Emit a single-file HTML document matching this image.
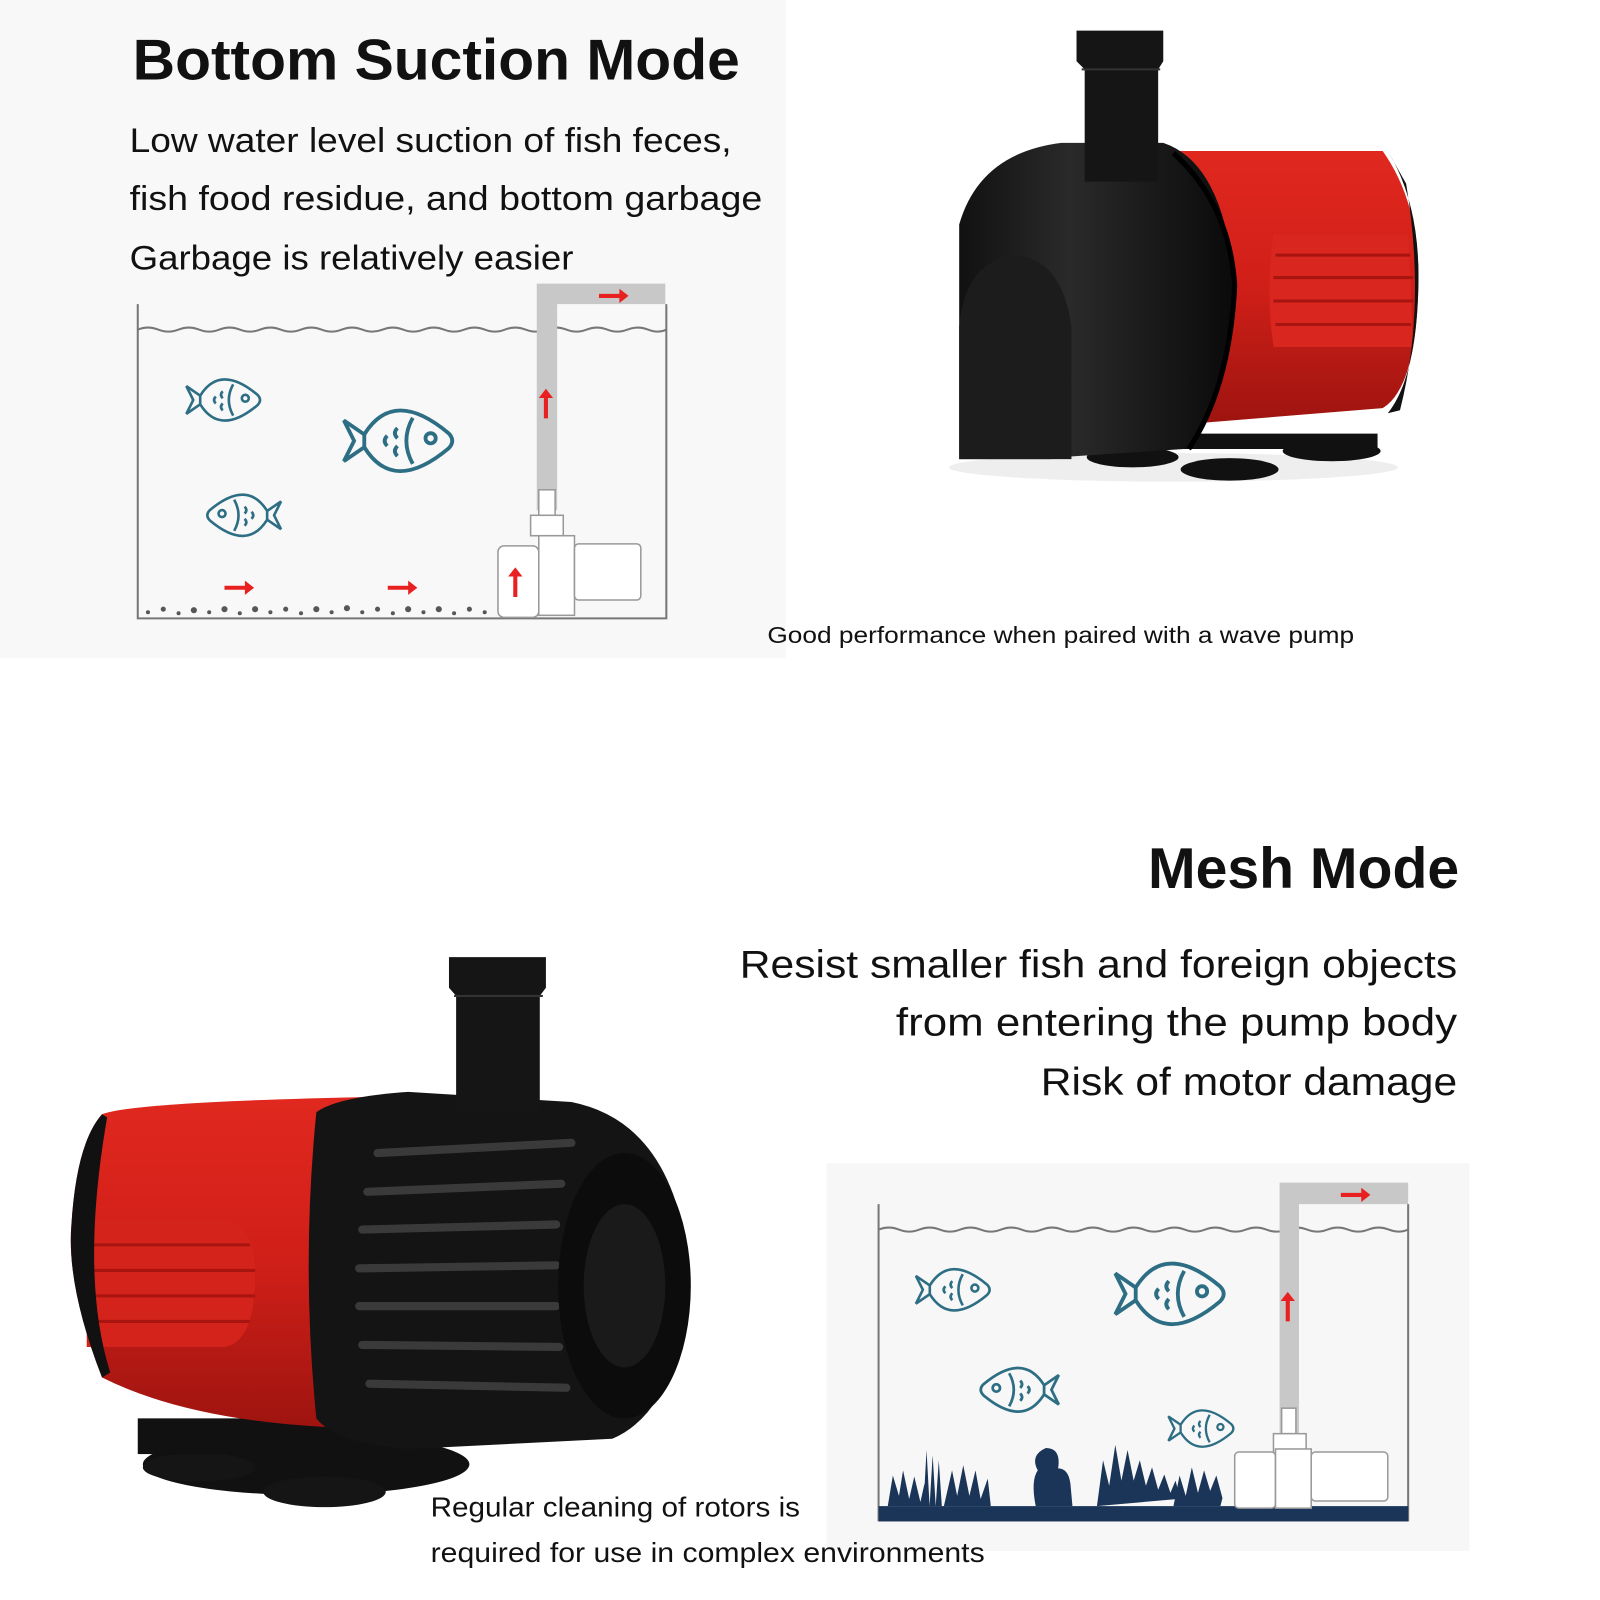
<!DOCTYPE html>
<html><head><meta charset="utf-8"><style>
html,body{margin:0;padding:0;background:#fff}
svg{display:block}
text{font-family:"Liberation Sans",sans-serif;fill:#111}
</style></head><body>
<svg width="1600" height="1600" viewBox="0 0 1568 1568" xmlns="http://www.w3.org/2000/svg">
<defs>
<linearGradient id="red" x1="0" y1="0" x2="0" y2="1"><stop offset="0" stop-color="#e0281f"/><stop offset=".5" stop-color="#d01f18"/><stop offset="1" stop-color="#9e1410"/></linearGradient>
<linearGradient id="blk" x1="0" y1="0" x2="1" y2="0"><stop offset="0" stop-color="#111"/><stop offset=".4" stop-color="#2a2a2a"/><stop offset="1" stop-color="#0a0a0a"/></linearGradient>
<g id="fish" fill="none" stroke="#2d6e84" stroke-width="3">
<path d="M-28,-5 Q-5,-42 38,-6 Q44,0 38,6 Q-5,42 -28,5 Z"/>
<path d="M-28,-5 L-44,-16 L-36,0 L-44,16 L-28,5"/>
<circle cx="24" cy="-2" r="4"/>
<path d="M10,-18 Q0,0 10,18 M-2,-10 q-4,4 0,8 M-10,-4 q-4,4 0,8 M-2,4 q-4,4 0,8"/>
</g>
</defs>
<rect x="0" y="0" width="770" height="645" fill="#f8f8f8"/>
<rect x="810" y="1140" width="630" height="380" fill="#f7f7f7"/>

<text x="130" y="78" font-size="56" font-weight="bold" textLength="595" lengthAdjust="spacingAndGlyphs">Bottom Suction Mode</text>
<text x="127" y="149" font-size="34" textLength="590" lengthAdjust="spacingAndGlyphs">Low water level suction of fish feces,</text>
<text x="127" y="206" font-size="34" textLength="620" lengthAdjust="spacingAndGlyphs">fish food residue, and bottom garbage</text>
<text x="127" y="264" font-size="34" textLength="435" lengthAdjust="spacingAndGlyphs">Garbage is relatively easier</text>
<text x="752" y="630" font-size="23" textLength="575" lengthAdjust="spacingAndGlyphs">Good performance when paired with a wave pump</text>

<text x="1430" y="870" font-size="56" font-weight="bold" text-anchor="end" textLength="305" lengthAdjust="spacingAndGlyphs">Mesh Mode</text>
<text x="1428" y="958" font-size="38" text-anchor="end" textLength="703" lengthAdjust="spacingAndGlyphs">Resist smaller fish and foreign objects</text>
<text x="1428" y="1015" font-size="38" text-anchor="end" textLength="550" lengthAdjust="spacingAndGlyphs">from entering the pump body</text>
<text x="1428" y="1073" font-size="38" text-anchor="end" textLength="408" lengthAdjust="spacingAndGlyphs">Risk of motor damage</text>
<text x="422" y="1486" font-size="27" textLength="362" lengthAdjust="spacingAndGlyphs">Regular cleaning of rotors is</text>
<text x="422" y="1531" font-size="27" textLength="543" lengthAdjust="spacingAndGlyphs">required for use in complex environments</text>

<!-- top tank -->
<g fill="none" stroke="#777" stroke-width="2">
<path d="M135,298 V606 H653 V298"/>
<path d="M135,323 q10,-4 20,0 t20,0 t20,0 t20,0 t20,0 t20,0 t20,0 t20,0 t20,0 t20,0 t20,0 t20,0 t20,0 t20,0 t20,0 t20,0 t20,0 t20,0 t20,0 t20,0 t20,0 t20,0 t20,0 t20,0 t20,0 t18,0"/>
</g>
<path d="M526,500 V278 H652 V298 H546 V500 Z" fill="#c8c8c8"/>
<g fill="#222" opacity=".75">
<circle cx="145" cy="600" r="2"/><circle cx="160" cy="597" r="2.5"/><circle cx="175" cy="601" r="2"/><circle cx="190" cy="598" r="3"/><circle cx="205" cy="600" r="2"/><circle cx="220" cy="597" r="3"/><circle cx="235" cy="601" r="2"/><circle cx="250" cy="597" r="3"/><circle cx="265" cy="600" r="2"/><circle cx="280" cy="597" r="2.5"/><circle cx="295" cy="601" r="2"/><circle cx="310" cy="597" r="3"/><circle cx="325" cy="600" r="2"/><circle cx="340" cy="596" r="3"/><circle cx="355" cy="600" r="2"/><circle cx="370" cy="597" r="2.5"/><circle cx="385" cy="601" r="2"/><circle cx="400" cy="597" r="3"/><circle cx="415" cy="600" r="2"/><circle cx="430" cy="597" r="3"/><circle cx="445" cy="601" r="2"/><circle cx="460" cy="597" r="2.5"/><circle cx="475" cy="600" r="2"/>
</g>
<g fill="#fff" stroke="#999" stroke-width="1.5">
<rect x="528" y="480" width="16" height="25"/>
<rect x="520" y="505" width="32" height="20"/>
<rect x="488" y="535" width="40" height="70" rx="6"/>
<rect x="528" y="525" width="35" height="78"/>
<rect x="563" y="533" width="65" height="55" rx="4"/>
</g>
<g fill="#e82020">
<path d="M587,288 h20 v-5 l9,7 -9,7 v-5 h-20 z"/>
<path d="M533,410 v-20 h-5 l7,-9 7,9 h-5 v20 z"/>
<path d="M503,585 v-20 h-5 l7,-9 7,9 h-5 v20 z"/>
<path d="M220,574 h20 v-5 l9,7 -9,7 v-5 h-20 z"/>
<path d="M380,574 h20 v-5 l9,7 -9,7 v-5 h-20 z"/>
</g>
<use href="#fish" transform="translate(220,392) scale(0.85)"/>
<use href="#fish" transform="translate(392,432) scale(1.25)"/>
<use href="#fish" transform="translate(238,505) scale(-0.85,0.85)"/>

<!-- bottom tank -->
<g fill="none" stroke="#777" stroke-width="2">
<path d="M861,1180 V1490 H1380 V1180"/>
<path d="M861,1205 q10,-4 20,0 t20,0 t20,0 t20,0 t20,0 t20,0 t20,0 t20,0 t20,0 t20,0 t20,0 t20,0 t20,0 t20,0 t20,0 t20,0 t20,0 t20,0 t20,0 t20,0 t20,0 t20,0 t20,0 t20,0 t20,0 t19,0"/>
</g>
<path d="M1254,1420 V1159 H1380 V1180 H1273 V1420 Z" fill="#c8c8c8"/>
<rect x="861" y="1476" width="519" height="15" fill="#1a3558"/>
<g fill="#1a3558">
<path d="M870,1476 l5,-30 l6,20 l4,-25 l6,28 l5,-22 l6,25 l4,-18 l5,20 l-2,2z"/>
<path d="M905,1476 l3,-55 l3,55 l3,-50 l3,50 l3,-45 l3,45z"/>
<path d="M925,1476 l8,-35 l5,25 l6,-30 l6,30 l6,-25 l5,28 l7,-20 l3,27z"/>
<path d="M1015,1476 q-5,-25 2,-35 q-8,-15 8,-22 q15,0 12,20 q10,0 12,15 l2,22z"/>
<path d="M1075,1476 l6,-45 l6,25 l6,-40 l6,35 l6,-30 l6,30 l6,-20 l6,25 l6,-18 l6,22 l6,-15 l6,18 l5,-12 l4,15 l-2,3z"/>
<path d="M1150,1476 l6,-30 l6,20 l6,-28 l6,25 l6,-22 l6,20 l6,-15 l6,22 l-2,8z"/>
</g>
<g fill="#fff" stroke="#999" stroke-width="1.5">
<rect x="1256" y="1380" width="14" height="25"/>
<rect x="1248" y="1405" width="32" height="20"/>
<rect x="1210" y="1423" width="40" height="55" rx="4"/>
<rect x="1250" y="1420" width="35" height="58"/>
<rect x="1285" y="1423" width="75" height="48" rx="4"/>
</g>
<g fill="#e82020">
<path d="M1314,1169 h20 v-5 l9,7 -9,7 v-5 h-20 z"/>
<path d="M1260,1295 v-20 h-5 l7,-9 7,9 h-5 v20 z"/>
</g>
<use href="#fish" transform="translate(935,1264) scale(0.85)"/>
<use href="#fish" transform="translate(1148,1268) scale(1.25)"/>
<use href="#fish" transform="translate(998,1362) scale(-0.9,0.9)"/>
<use href="#fish" transform="translate(1178,1400) scale(0.75)"/>

<!-- top pump -->
<g>
<ellipse cx="1150" cy="458" rx="220" ry="14" fill="#eee"/>
<path d="M1065,425 h285 v15 h-285z" fill="#111"/>
<ellipse cx="1110" cy="448" rx="45" ry="10" fill="#111"/>
<ellipse cx="1205" cy="460" rx="48" ry="11" fill="#111"/>
<ellipse cx="1305" cy="442" rx="48" ry="10" fill="#111"/>
<path d="M1140,148 L1355,148 Q1392,200 1390,280 Q1388,380 1355,400 L1170,415 Z" fill="url(#red)"/>
<path d="M1248,230 L1380,230 L1385,340 L1248,340 Q1240,285 1248,230Z" fill="#d9261e"/>
<g stroke="#a8140f" stroke-width="3"><line x1="1250" y1="250" x2="1382" y2="250"/><line x1="1248" y1="272" x2="1385" y2="272"/><line x1="1248" y1="295" x2="1385" y2="295"/><line x1="1250" y1="318" x2="1383" y2="318"/></g>
<path d="M1360,148 Q1392,200 1390,280 Q1388,370 1360,405 L1372,402 Q1398,300 1378,180 Z" fill="#111"/>
<path d="M940,220 Q960,150 1040,140 L1140,140 Q1200,160 1210,280 Q1205,400 1160,440 L1040,448 L1030,450 L940,450 Z" fill="url(#blk)"/>
<path d="M940,450 L940,320 Q945,260 990,250 Q1040,250 1050,320 L1050,450 Z" fill="#1c1c1c"/>
<path d="M1150,150 Q1205,200 1210,280 Q1205,380 1165,440" fill="none" stroke="#000" stroke-width="5"/>
<path d="M1055,30 h85 v30 l-5,8 v110 h-72 v-110 l-8,-8 z" fill="#151515"/>
<line x1="1060" y1="68" x2="1137" y2="68" stroke="#333" stroke-width="2"/>
</g>

<!-- bottom pump -->
<g>
<ellipse cx="300" cy="1435" rx="160" ry="30" fill="#111"/>
<ellipse cx="195" cy="1438" rx="55" ry="14" fill="#151515"/>
<ellipse cx="318" cy="1462" rx="60" ry="15" fill="#151515"/>
<rect x="135" y="1390" width="270" height="35" fill="#111"/>
<path d="M100,1092 Q130,1080 360,1075 L390,1080 L380,1400 Q200,1400 100,1350 Q65,1260 70,1200 Q75,1120 100,1092Z" fill="url(#red)"/>
<path d="M85,1195 L220,1195 Q250,1200 250,1250 Q250,1315 220,1320 L85,1320 Z" fill="#d3231b"/>
<g stroke="#a8140f" stroke-width="3"><line x1="85" y1="1220" x2="245" y2="1220"/><line x1="85" y1="1245" x2="250" y2="1245"/><line x1="85" y1="1270" x2="250" y2="1270"/><line x1="85" y1="1295" x2="245" y2="1295"/></g>
<path d="M100,1092 Q75,1120 70,1200 Q65,1260 100,1350 L108,1345 Q78,1250 105,1095Z" fill="#111"/>
<path d="M310,1090 Q330,1075 400,1070 L560,1080 Q660,1100 675,1240 Q670,1380 600,1410 L400,1420 Q330,1415 310,1390 Q295,1240 310,1090Z" fill="#141414"/>
<g stroke="#3a3a3a" stroke-width="8" stroke-linecap="round">
<line x1="370" y1="1130" x2="560" y2="1120"/><line x1="360" y1="1168" x2="550" y2="1160"/><line x1="355" y1="1205" x2="545" y2="1200"/><line x1="352" y1="1243" x2="545" y2="1240"/><line x1="352" y1="1280" x2="545" y2="1280"/><line x1="355" y1="1318" x2="548" y2="1320"/><line x1="362" y1="1356" x2="555" y2="1360"/>
</g>
<ellipse cx="612" cy="1260" rx="65" ry="130" fill="#0c0c0c"/>
<ellipse cx="612" cy="1260" rx="40" ry="80" fill="#1a1a1a"/>
<path d="M440,938 h95 v30 l-6,8 v114 h-82 v-114 l-7,-8 z" fill="#151515"/>
<line x1="445" y1="976" x2="532" y2="976" stroke="#333" stroke-width="2"/>
</g>
</svg>
</body></html>
